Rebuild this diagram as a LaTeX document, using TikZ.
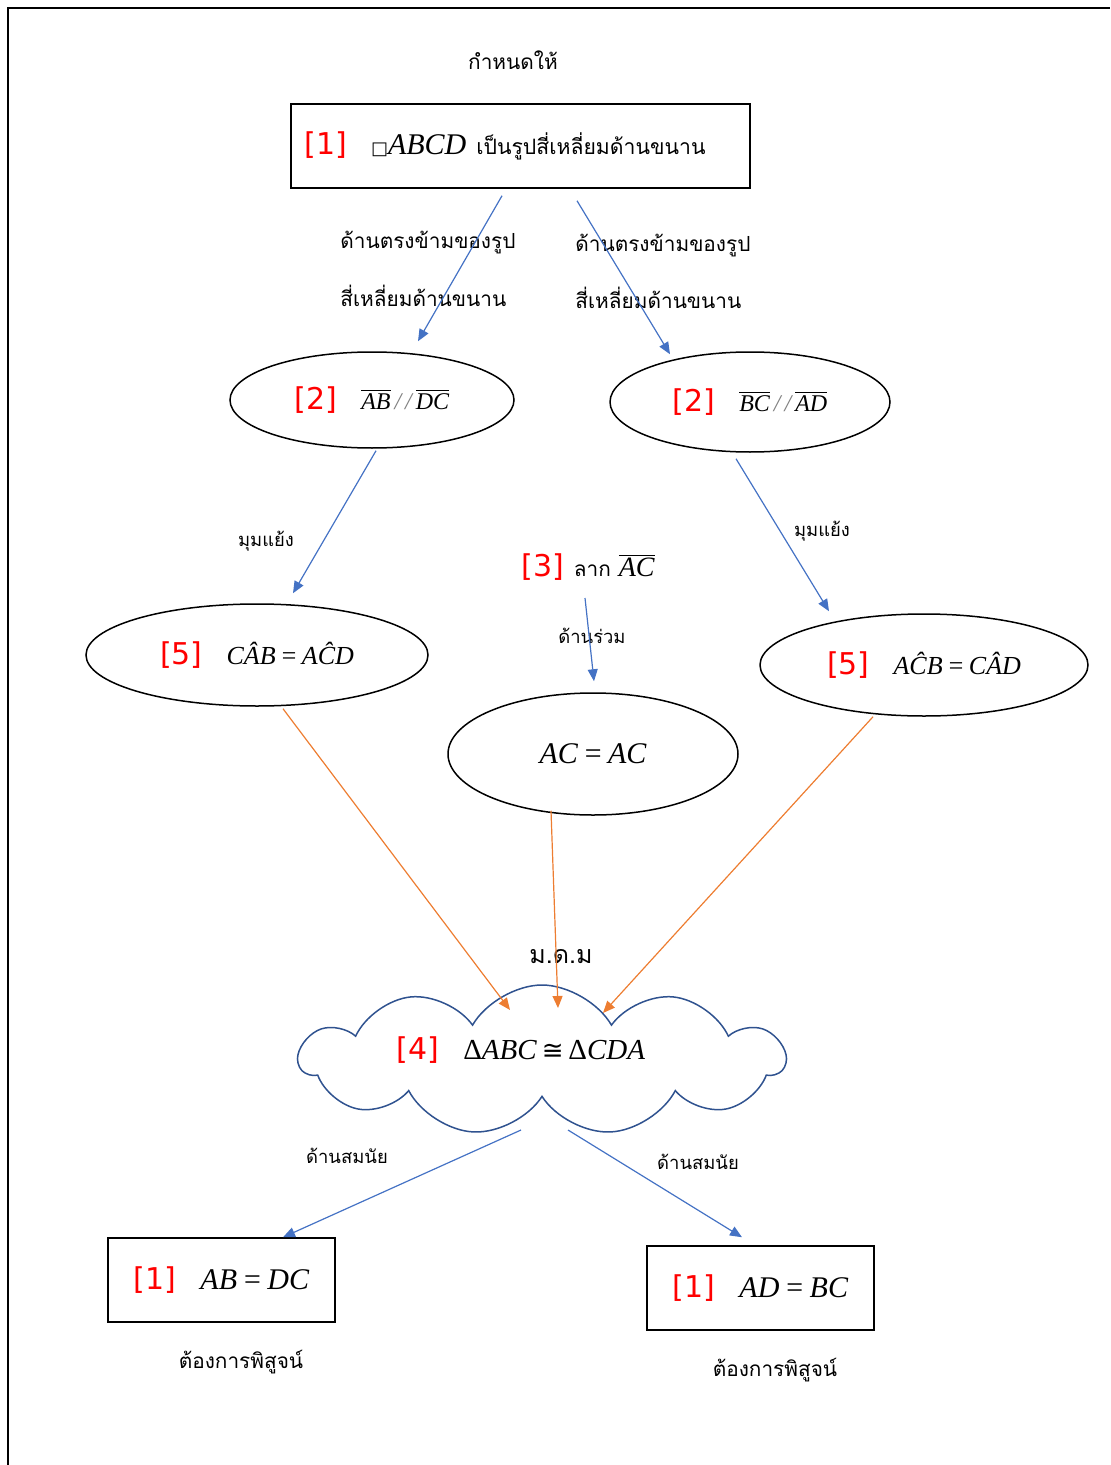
\documentclass[tikz,border=0pt]{standalone}
\usepackage{fontspec}
\usetikzlibrary{shapes.geometric,shapes.symbols,arrows.meta,calc}
\newfontfamily\thai[Script=Thai]{Loma}
\newfontfamily\tms{Liberation Serif}
\newfontfamily\dvs{DejaVu Sans}

\definecolor{arrblue}{HTML}{4472C4}
\definecolor{arrorange}{HTML}{ED7D31}
\definecolor{cloudblue}{HTML}{2F528F}
\definecolor{tagred}{HTML}{FF0000}

% step number in red, italic letters, segment with bar
\newcommand{\stepno}[1]{{\dvs\color{tagred}\fontsize{15}{17}\selectfont[#1]}}
\newcommand{\mth}[1]{{\tms\itshape #1}}
\newcommand{\seg}[1]{$\overline{\hbox{\tms\itshape #1}}$}

\tikzset{
  blk/.style={draw=black, line width=0.75pt, inner sep=0pt},
  boxnode/.style={blk, rectangle},
  ellnode/.style={blk, ellipse},
  barrow/.style={draw=arrblue, line width=0.6pt, -{Triangle[length=6pt,width=5pt]}},
  oarrow/.style={draw=arrorange, line width=0.6pt, -{Triangle[length=6pt,width=5pt]}},
  lbl/.style={inner sep=0pt, font=\thai\fontsize{10.4}{12}\selectfont},
  slbl/.style={inner sep=0pt, font=\thai\fontsize{9.2}{11}\selectfont},
}

\begin{document}
\begin{tikzpicture}[x=0.5pt,y=-0.5pt]
\useasboundingbox (0,0) rectangle (1110,1465);

% page frame
\draw[line width=1pt] (8,1465) -- (8,8) -- (1110,8);

% given
\node[lbl] (given) at (513,60) {กำหนดให้};
\node[boxnode, minimum width=229.5pt, minimum height=42pt] (top) at (520.5,146) {};
\node[inner sep=0pt] (toptxt) at (505,146)
  {\stepno{1}\hspace{12pt}{\dvs\fontsize{9}{11}\selectfont □}{\tms\itshape\fontsize{15}{17}\selectfont ABCD}\hspace{5pt}{\thai\fontsize{10.6}{13}\selectfont เป็นรูปสี่เหลี่ยมด้านขนาน}};

% parallel sides
\node[ellnode, minimum width=142pt, minimum height=48pt] (e2l) at (372,400)
  {\stepno{2}\hspace{12pt}{\fontsize{12}{14}\selectfont\seg{AB}\,{\tms\itshape\color{gray}/\,/}\,\seg{DC}}};
\node[ellnode, minimum width=140pt, minimum height=50pt] (e2r) at (750,402)
  {\stepno{2}\hspace{12pt}{\fontsize{12}{14}\selectfont\seg{BC}\,{\tms\itshape\color{gray}/\,/}\,\seg{AD}}};

\node[lbl, anchor=west] (ll1) at (340,243) {ด้านตรงข้ามของรูป};
\node[lbl, anchor=west] (ll2) at (340,296) {สี่เหลี่ยมด้านขนาน};
\node[lbl, anchor=west] (rl1) at (575,246) {ด้านตรงข้ามของรูป};
\node[lbl, anchor=west] (rl2) at (575,298) {สี่เหลี่ยมด้านขนาน};

\draw[barrow] ([shift={(-18.5,7)}]top.south) -- ([shift={(46,-10)}]e2l.north);
\draw[barrow] ([shift={(56.5,12)}]top.south) -- ([shift={(-80,3)}]e2r.north);

% alternate angles
\node[ellnode, minimum width=171pt, minimum height=51pt] (e5l) at (257,655)
  {\stepno{5}\hspace{12pt}{\tms\itshape\fontsize{13}{15}\selectfont CÂB\,=\,AĈD}};
\node[ellnode, minimum width=164pt, minimum height=51pt] (e5r) at (924,665)
  {\stepno{5}\hspace{12pt}{\tms\itshape\fontsize{13}{15}\selectfont AĈB\,=\,CÂD}};

\node[slbl] (alt1) at (266,541) {มุมแย้ง};
\node[slbl] (alt2) at (822,531) {มุมแย้ง};
\draw[barrow] ([shift={(4,2)}]e2l.south) -- ([shift={(36,-10)}]e5l.north);
\draw[barrow] ([shift={(-14,6)}]e2r.south) -- ([shift={(-95,-2)}]e5r.north);

% common side
\node[inner sep=0pt] (drawac) at (588,567)
  {\stepno{3}\hspace{5pt}{\thai\fontsize{10.4}{12}\selectfont ลาก}\hspace{4pt}{\fontsize{14}{16}\selectfont\seg{AC}}};
\node[ellnode, minimum width=145pt, minimum height=61pt] (eac) at (593,754)
  {\mth{\fontsize{15}{17}\selectfont AC\,=\,AC}};
\node[slbl] (common) at (592,636) {ด้านร่วม};
\draw[barrow] ([shift={(-3,31)}]drawac.center) -- ([shift={(1,-11)}]eac.north);

% congruence
\node[cloud, draw=cloudblue, line width=0.75pt, cloud puffs=11, cloud puff arc=120,
      cloud ignores aspect, minimum width=242.5pt, minimum height=75pt, inner sep=0pt] (cong) at (542,1060) {};
\node[inner sep=0pt] (congtxt) at (521,1050)
  {\stepno{4}\hspace{12pt}{\tms\fontsize{14.5}{17}\selectfont Δ\textit{ABC}\,{\dvs\fontsize{13}{15}\selectfont ≅}\,Δ\textit{CDA}}};
\node[inner sep=0pt, font=\thai\fontsize{12.5}{15}\selectfont] (sas) at (561,957) {ม.ด.ม};

\draw[oarrow] ([shift={(26,2)}]e5l.south) -- ([shift={(-32,-50)}]cong.center);
\draw[oarrow] ([shift={(-42,-5)}]eac.south) -- ([shift={(16,-52)}]cong.center);
\draw[oarrow] ([shift={(-51,0)}]e5r.south) -- ([shift={(61,-47)}]cong.center);

% to prove
\node[boxnode, minimum width=113.5pt, minimum height=42pt] (lbox) at (221.5,1280)
  {\stepno{1}\hspace{12pt}{\tms\itshape\fontsize{15}{17}\selectfont AB\,=\,DC}};
\node[boxnode, minimum width=113.5pt, minimum height=42pt] (rbox) at (760.5,1288)
  {\stepno{1}\hspace{12pt}{\tms\itshape\fontsize{15}{17}\selectfont AD\,=\,BC}};

\node[slbl] (corr1) at (347,1156) {ด้านสมนัย};
\node[slbl] (corr2) at (698,1162) {ด้านสมนัย};
\draw[barrow] ([shift={(-21,70)}]cong.center) -- ([shift={(61.5,0)}]lbox.north);
\draw[barrow] ([shift={(26,70)}]cong.center) -- ([shift={(-18.5,-8)}]rbox.north);

\node[lbl] (prove1) at (241,1362) {ต้องการพิสูจน์};
\node[lbl] (prove2) at (775,1370) {ต้องการพิสูจน์};
\end{tikzpicture}
\end{document}
